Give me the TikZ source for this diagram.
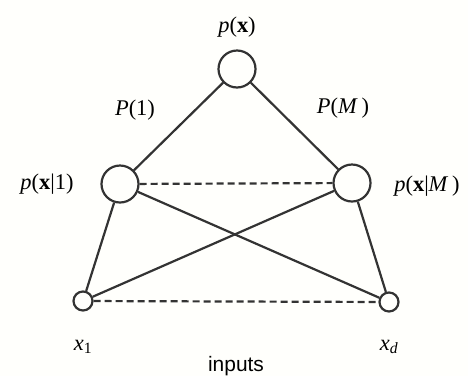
\documentclass[tikz,border=0pt]{standalone}
\usepackage{fontspec}
\setmainfont{Liberation Serif}
\newfontfamily\labsans{Liberation Sans}
\begin{document}
\begin{tikzpicture}[x=1bp,y=-1bp,
  unit/.style={circle,draw=black!80,line width=2.2bp,minimum size=37bp,inner sep=0pt},
  inp/.style={circle,draw=black!80,line width=2.2bp,minimum size=19bp,inner sep=0pt},
  conn/.style={draw=black!80,line width=2.2bp},
  dconn/.style={draw=black!80,line width=2.2bp,dash pattern=on 7bp off 4bp},
  lab/.style={font=\fontsize{22.5}{26}\selectfont,inner sep=0pt}]
\fill[white!99!yellow] (0,0) rectangle (468,376);
\useasboundingbox (0,0) rectangle (468,376);
\node[unit] (top) at (237,69) {};
\node[unit] (L) at (120,184) {};
\node[unit] (R) at (352,183) {};
\node[inp] (BL) at (83,301) {};
\node[inp] (BR) at (389,302) {};
\draw[conn] (top) -- (L);
\draw[conn] (top) -- (R);
\draw[conn] (L) -- (BL);
\draw[conn] (L) -- (BR);
\draw[conn] (R) -- (BL);
\draw[conn] (R) -- (BR);
\draw[dconn] (L) -- (R);
\draw[dconn] (BL) -- (BR);
\node[lab] (lpx) at (237,27) {\textit{p}(\textbf{x})};
\node[lab] (lP1) at (135,110) {\textit{P}(1)};
\node[lab] (lPM) at (343,108) {\textit{P}(\textit{M}\,)};
\node[lab] (lpx1) at (47,184) {\textit{p}(\textbf{x}|1)};
\node[lab] (lpxM) at (427,186) {\textit{p}(\textbf{x}|\textit{M}\,)};
\node[lab] (lx1) at (83,347) {\textit{x}\textsubscript{1}};
\node[lab] (lxd) at (389,347) {\textit{x\textsubscript{d}}};
\node[lab,font=\labsans\fontsize{21}{24}\selectfont] (linp) at (236,366) {inputs};
\end{tikzpicture}
\end{document}
